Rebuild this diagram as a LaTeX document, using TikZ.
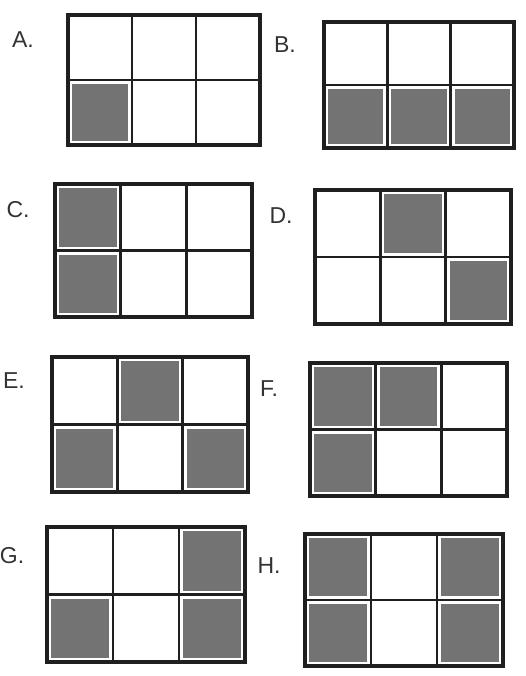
\documentclass[tikz,border=0pt]{standalone}
\usepackage{fontspec}
\setmainfont{Liberation Sans}
\tikzset{
  gridframe/.style={line width=3.6pt, draw=black!88, line join=miter},
  gridline/.style={line width=2.6pt, draw=black!88},
  cellshade/.style={fill=black!55},
  optlabel/.style={font=\fontsize{23}{23}\selectfont, text=black!80, inner sep=0pt, anchor=center},
}
\newcommand\optgrid[5]{%
  \pgfmathsetmacro\gw{(#3-#1)/3}%
  \pgfmathsetmacro\gh{(#4-#2)/2}%
  \foreach \r/\c in {#5}{%
    \fill[cellshade] ({#1+\c*\gw+4},{#2+\r*\gh+4}) rectangle ({#1+(\c+1)*\gw-4},{#2+(\r+1)*\gh-4});
  }%
  \draw[gridline] ({#1+\gw},#2) -- ({#1+\gw},#4);
  \draw[gridline] ({#1+2*\gw},#2) -- ({#1+2*\gw},#4);
  \draw[gridline] (#1,{#2+\gh}) -- (#3,{#2+\gh});
  \draw[gridframe] (#1,#2) rectangle (#3,#4);
}
\begin{document}
\begin{tikzpicture}[x=1pt,y=-1pt]
  \useasboundingbox[fill=white] (0,0) rectangle (525,676);
  % A
  \optgrid{68}{15}{260}{145}{1/0}
  \node[optlabel] (labA) at (23,40) {A.};
  % B
  \optgrid{324}{22}{514}{148}{1/0,1/1,1/2}
  \node[optlabel] (labB) at (285,45) {B.};
  % C
  \optgrid{55}{184}{252}{317}{0/0,1/0}
  \node[optlabel] (labC) at (18,210) {C.};
  % D
  \optgrid{315}{190}{511}{324}{0/1,1/2}
  \node[optlabel] (labD) at (281,216) {D.};
  % E
  \optgrid{52}{357}{248}{492}{0/1,1/0,1/2}
  \node[optlabel] (labE) at (14,381) {E.};
  % F
  \optgrid{310}{363}{507}{496}{0/0,0/1,1/0}
  \node[optlabel] (labF) at (269,389) {F.};
  % G
  \optgrid{47}{527}{245}{662}{0/2,1/0,1/2}
  \node[optlabel] (labG) at (12,556) {G.};
  % H
  \optgrid{305}{534}{503}{666}{0/0,0/2,1/0,1/2}
  \node[optlabel] (labH) at (269,566) {H.};
\end{tikzpicture}
\end{document}
